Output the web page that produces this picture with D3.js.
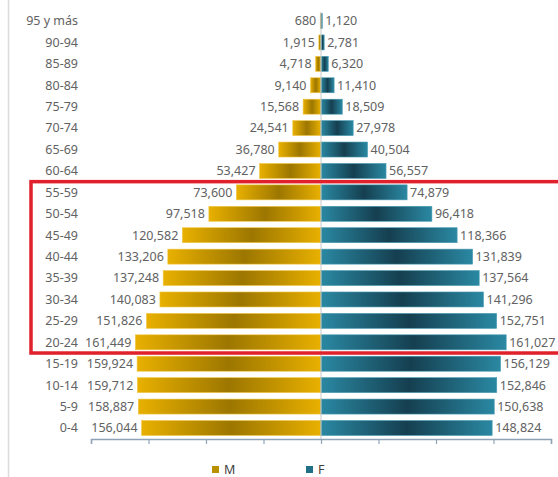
<!DOCTYPE html>
<html>
<head>
<meta charset="utf-8">
<script src="https://cdn.jsdelivr.net/npm/d3@7"></script>
<style>
    html, body { margin: 0; padding: 0; background: #fff; }
    svg { display: block; }
    text { font-family: "Noto Sans", sans-serif; fill: #626262; }
</style>
</head>
<body>
<svg id="chart" width="558" height="477"></svg>
<script>
const ageGroups = [
    "95 y más", "90-94", "85-89", "80-84", "75-79", "70-74", "65-69", "60-64",
    "55-59", "50-54", "45-49", "40-44", "35-39", "30-34", "25-29", "20-24",
    "15-19", "10-14", "5-9", "0-4",
];
const maleValues = [
    680, 1915, 4718, 9140, 15568, 24541, 36780, 53427,
    73600, 97518, 120582, 133206, 137248, 140083, 151826, 161449,
    159924, 159712, 158887, 156044,
];
const femaleValues = [
    1120, 2781, 6320, 11410, 18509, 27978, 40504, 56557,
    74879, 96418, 118366, 131839, 137564, 141296, 152751, 161027,
    156129, 152846, 150638, 148824,
];
const xTicks = [-200000, -150000, -100000, -50000, 0, 50000, 100000, 150000, 200000];
const highlighted = ["55-59", "20-24"];
const legendLabels = ["M", "F"];

const rows = ageGroups.map((g, i) => ({
    group: g,
    m: maleValues[i],
    f: femaleValues[i],
}));

const svg = d3.select("#chart");
const defs = svg.append("defs");

const makeGradient = (id, edge, mid) => {
    const g = defs.append("linearGradient")
        .attr("id", id)
        .attr("x1", "0%").attr("x2", "100%")
        .attr("y1", "0%").attr("y2", "0%");
    g.append("stop").attr("offset", "0%").attr("stop-color", edge);
    g.append("stop").attr("offset", "50%").attr("stop-color", mid);
    g.append("stop").attr("offset", "100%").attr("stop-color", edge);
};
makeGradient("gradM", "#e8b000", "#9c7600");
makeGradient("gradF", "#2a88a2", "#153f50");

const x = d3.scaleLinear().domain([-200000, 200000]).range([91, 551]);
const y = d3.scaleBand()
    .domain(ageGroups)
    .range([10.3, 438.7])
    .paddingInner(0.3)
    .paddingOuter(0.15);

// frame line at the left
svg.append("line")
    .attr("x1", 8.5).attr("x2", 8.5)
    .attr("y1", 0).attr("y2", 477)
    .style("stroke", "#dcdcdc")
    .style("stroke-width", 1.5);

// bars
const bars = svg.append("g");
bars.selectAll("rect.m")
    .data(rows)
    .join("rect")
    .attr("class", "m")
    .attr("x", (d) => x(-d.m))
    .attr("y", (d) => y(d.group))
    .attr("width", (d) => x(0) - x(-d.m))
    .attr("height", y.bandwidth())
    .attr("fill", "url(#gradM)")
    .style("stroke", "#f2c94a")
    .style("stroke-width", 0.6);

bars.selectAll("rect.f")
    .data(rows)
    .join("rect")
    .attr("class", "f")
    .attr("x", x(0))
    .attr("y", (d) => y(d.group))
    .attr("width", (d) => x(d.f) - x(0))
    .attr("height", y.bandwidth())
    .attr("fill", "url(#gradF)")
    .style("stroke", "#4a9cb4")
    .style("stroke-width", 0.6);

// center line
svg.append("line")
    .attr("x1", x(0)).attr("x2", x(0))
    .attr("y1", 12).attr("y2", 439)
    .style("stroke", "#c8c8c8")
    .style("stroke-width", 1);

// bottom axis
const axis = svg.append("g")
    .attr("transform", "translate(0,439)")
    .call(d3.axisBottom(x).tickValues(xTicks).tickSize(5).tickSizeOuter(5).tickFormat(""));
axis.select(".domain").style("stroke", "#8fa3b8").style("stroke-width", 1.5);
axis.selectAll(".tick line").style("stroke", "#8fa3b8").style("stroke-width", 1.2);

// category labels
svg.append("g")
    .selectAll("text")
    .data(rows)
    .join("text")
    .attr("x", 78)
    .attr("y", (d) => y(d.group) + y.bandwidth() / 2)
    .attr("dy", "0.35em")
    .attr("text-anchor", "end")
    .style("font-size", "12.5px")
    .text((d) => d.group);

// value labels
const fmt = d3.format(",");
svg.append("g")
    .selectAll("text")
    .data(rows)
    .join("text")
    .attr("x", (d) => x(-d.m) - 4)
    .attr("y", (d) => y(d.group) + y.bandwidth() / 2)
    .attr("dy", "0.35em")
    .attr("text-anchor", "end")
    .style("font-size", "12.5px")
    .text((d) => fmt(d.m));

svg.append("g")
    .selectAll("text")
    .data(rows)
    .join("text")
    .attr("x", (d) => x(d.f) + 3)
    .attr("y", (d) => y(d.group) + y.bandwidth() / 2)
    .attr("dy", "0.35em")
    .attr("text-anchor", "start")
    .style("font-size", "12.5px")
    .text((d) => fmt(d.f));

// red highlight box
const gap = (y.step() - y.bandwidth()) / 2;
const boxTop = y(highlighted[0]) - gap;
const boxBottom = y(highlighted[1]) + y.bandwidth() + gap;
svg.append("rect")
    .attr("x", 31)
    .attr("y", boxTop)
    .attr("width", 540)
    .attr("height", boxBottom - boxTop)
    .attr("fill", "none")
    .style("stroke", "#e0212b")
    .style("stroke-width", 3.5);

// legend
const legend = svg.append("g");
const legendX = [212, 306];
const legendFill = ["#b89000", "#1f6f86"];
legendLabels.forEach((label, i) => {
    legend.append("rect")
        .attr("x", legendX[i])
        .attr("y", 466)
        .attr("width", 7)
        .attr("height", 7)
        .attr("fill", legendFill[i]);
    legend.append("text")
        .attr("x", legendX[i] + 12)
        .attr("y", 474)
        .style("font-size", "12.5px")
        .style("fill", "#404040")
        .text(label);
});
</script>
</body>
</html>
